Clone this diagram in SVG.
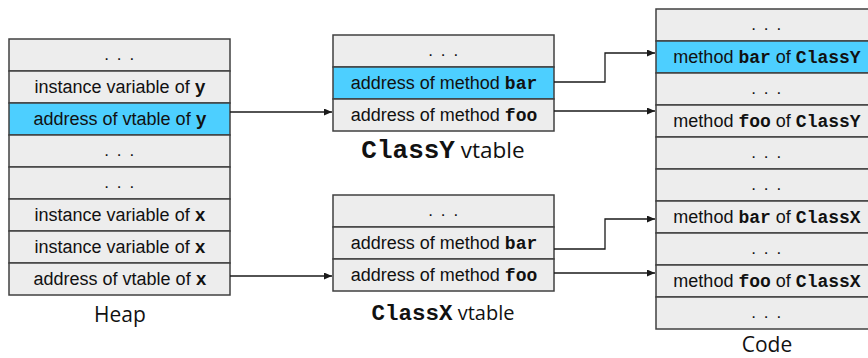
<svg xmlns="http://www.w3.org/2000/svg" width="868" height="358" viewBox="0 0 868 358">
  <defs>
    <style>
      .cell { fill: #ededed; stroke: #404040; stroke-width: 1.5; }
      .hot { fill: #4dcfff; }
      .t { font-family: "Liberation Sans", Arial, sans-serif; font-size: 18px; fill: #111; text-anchor: middle; }
      .m { font-family: "Liberation Mono", "Courier New", monospace; font-weight: bold; font-size: 18px; }
      .dots { font-family: "Liberation Sans", Arial, sans-serif; font-size: 17px; fill: #111; text-anchor: middle; letter-spacing: 1.6px; }
      .cap { font-family: "Open Sans", "Noto Sans", sans-serif; fill: #111; text-anchor: middle; }
      .capm { font-family: "Liberation Mono", "Courier New", monospace; font-weight: bold; }
      .wire { fill: none; stroke: #1a1a1a; stroke-width: 1.3; marker-end: url(#head); }
    </style>
    <marker id="head" viewBox="0 0 8 7" refX="8" refY="3.5" markerWidth="8" markerHeight="7" markerUnits="userSpaceOnUse" orient="auto">
      <path d="M0,0 L8,3.5 L0,7 z" fill="#1a1a1a"/>
    </marker>
  </defs>

  <!-- Heap column -->
  <g id="heap">
    <g id="heap-0"><rect class="cell" x="9" y="39" width="221" height="32"/><text class="dots" x="120" y="60">. . .</text></g>
    <g id="heap-y-var"><rect class="cell" x="9" y="71" width="221" height="32"/><text class="t" x="120" y="93">instance variable of <tspan class="m">y</tspan></text></g>
    <g id="heap-y-vptr"><rect class="cell hot" x="9" y="103" width="221" height="32"/><text class="t" x="120" y="125">address of vtable of <tspan class="m">y</tspan></text></g>
    <g id="heap-3"><rect class="cell" x="9" y="135" width="221" height="32"/><text class="dots" x="120" y="156">. . .</text></g>
    <g id="heap-4"><rect class="cell" x="9" y="167" width="221" height="32"/><text class="dots" x="120" y="188">. . .</text></g>
    <g id="heap-x-var1"><rect class="cell" x="9" y="199" width="221" height="32"/><text class="t" x="120" y="221">instance variable of <tspan class="m">x</tspan></text></g>
    <g id="heap-x-var2"><rect class="cell" x="9" y="231" width="221" height="32"/><text class="t" x="120" y="253">instance variable of <tspan class="m">x</tspan></text></g>
    <g id="heap-x-vptr"><rect class="cell" x="9" y="263" width="221" height="32"/><text class="t" x="120" y="285">address of vtable of <tspan class="m">x</tspan></text></g>
    <text class="cap" x="120" y="322" font-size="21">Heap</text>
  </g>

  <!-- ClassY vtable -->
  <g id="vtable-y">
    <g id="vy-0"><rect class="cell" x="333" y="35" width="221" height="32"/><text class="dots" x="444" y="56">. . .</text></g>
    <g id="vy-bar"><rect class="cell hot" x="333" y="67" width="221" height="32"/><text class="t" x="444" y="89">address of method <tspan class="m">bar</tspan></text></g>
    <g id="vy-foo"><rect class="cell" x="333" y="99" width="221" height="32"/><text class="t" x="444" y="121">address of method <tspan class="m">foo</tspan></text></g>
    <text class="cap" x="443" y="158" font-size="22.5"><tspan class="capm" font-size="26">ClassY</tspan> vtable</text>
  </g>

  <!-- ClassX vtable -->
  <g id="vtable-x">
    <g id="vx-0"><rect class="cell" x="333" y="195" width="221" height="32"/><text class="dots" x="444" y="216">. . .</text></g>
    <g id="vx-bar"><rect class="cell" x="333" y="227" width="221" height="32"/><text class="t" x="444" y="249">address of method <tspan class="m">bar</tspan></text></g>
    <g id="vx-foo"><rect class="cell" x="333" y="259" width="221" height="32"/><text class="t" x="444" y="281">address of method <tspan class="m">foo</tspan></text></g>
    <text class="cap" x="443" y="320" font-size="20"><tspan class="capm" font-size="22.5">ClassX</tspan> vtable</text>
  </g>

  <!-- Code column (runs past the right edge) -->
  <g id="code">
    <g id="code-0"><rect class="cell" x="656" y="9" width="230" height="32"/><text class="dots" x="767" y="30">. . .</text></g>
    <g id="code-y-bar"><rect class="cell hot" x="656" y="41" width="230" height="32"/><text class="t" x="767" y="63">method <tspan class="m">bar</tspan> of <tspan class="m">ClassY</tspan></text></g>
    <g id="code-2"><rect class="cell" x="656" y="73" width="230" height="32"/><text class="dots" x="767" y="94">. . .</text></g>
    <g id="code-y-foo"><rect class="cell" x="656" y="105" width="230" height="32"/><text class="t" x="767" y="127">method <tspan class="m">foo</tspan> of <tspan class="m">ClassY</tspan></text></g>
    <g id="code-4"><rect class="cell" x="656" y="137" width="230" height="32"/><text class="dots" x="767" y="158">. . .</text></g>
    <g id="code-5"><rect class="cell" x="656" y="169" width="230" height="32"/><text class="dots" x="767" y="190">. . .</text></g>
    <g id="code-x-bar"><rect class="cell" x="656" y="201" width="230" height="32"/><text class="t" x="767" y="223">method <tspan class="m">bar</tspan> of <tspan class="m">ClassX</tspan></text></g>
    <g id="code-7"><rect class="cell" x="656" y="233" width="230" height="32"/><text class="dots" x="767" y="254">. . .</text></g>
    <g id="code-x-foo"><rect class="cell" x="656" y="265" width="230" height="32"/><text class="t" x="767" y="287">method <tspan class="m">foo</tspan> of <tspan class="m">ClassX</tspan></text></g>
    <g id="code-9"><rect class="cell" x="656" y="297" width="230" height="32"/><text class="dots" x="767" y="318">. . .</text></g>
    <text class="cap" x="767" y="352" font-size="21">Code</text>
  </g>

  <!-- Pointers -->
  <g id="connectors">
    <path class="wire" d="M230,112 H332"/>
    <path class="wire" d="M230,276 H332"/>
    <path class="wire" d="M554,82 H605 V53 H655"/>
    <path class="wire" d="M554,111 H655"/>
    <path class="wire" d="M554,249 H605 V219 H655"/>
    <path class="wire" d="M554,273 H655"/>
  </g>
</svg>
